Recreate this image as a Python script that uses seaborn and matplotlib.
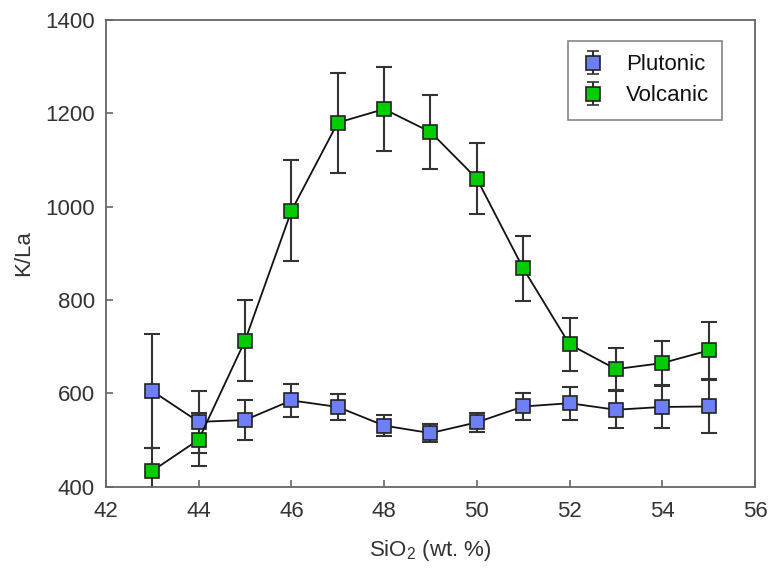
import numpy as np
import pandas as pd
import matplotlib
matplotlib.use('Agg')
import matplotlib.pyplot as plt
import seaborn as sns

# values
sio2 = [43, 44, 45, 46, 47, 48, 49, 50, 51, 52, 53, 54, 55]
plutonic = [605, 539, 543, 585, 571, 531, 515, 538, 572, 579, 565, 571, 572]
plutonic_err = [123, 67, 43, 35, 28, 22, 19, 21, 29, 35, 40, 45, 56]
volcanic = [434, 501, 713, 991, 1180, 1209, 1160, 1060, 868, 705, 652, 665, 692]
volcanic_err = [50, 57, 87, 108, 107, 90, 80, 76, 70, 56, 45, 47, 62]

colors = {'Plutonic': '#6e7ff5', 'Volcanic': '#00cc00'}

df = pd.DataFrame({
    'SiO2': sio2 * 2,
    'K/La': plutonic + volcanic,
    'err': plutonic_err + volcanic_err,
    'type': ['Plutonic'] * len(sio2) + ['Volcanic'] * len(sio2),
})

sns.set_style('white')
plt.rcParams['font.family'] = ['Liberation Sans', 'DejaVu Sans']
plt.rcParams['mathtext.default'] = 'regular'

fig = plt.figure(figsize=(7.68, 5.70), dpi=100)
ax = fig.add_axes([0.138, 0.146, 0.845, 0.819])

ebar_color = '#333333'
handles = []
for name, grp in df.groupby('type'):
    ax.errorbar(grp['SiO2'], grp['K/La'], yerr=grp['err'], fmt='none',
                ecolor=ebar_color, elinewidth=1.5, capsize=5.5, capthick=1.5, zorder=2)
    sns.lineplot(x=grp['SiO2'], y=grp['K/La'], ax=ax, color='#111111', linewidth=1.3,
                 marker='s', markersize=10, markerfacecolor=colors[name],
                 markeredgecolor='#222222', markeredgewidth=1.2, zorder=3, legend=False)
    # proxy artist for legend: marker with vertical error bar
    h = ax.errorbar([np.nan], [np.nan], yerr=[1], fmt='s', markersize=10,
                    markerfacecolor=colors[name], markeredgecolor='#222222',
                    markeredgewidth=1.2, ecolor=ebar_color, elinewidth=1.5,
                    capsize=4, capthick=1.5, label=name)
    handles.append(h)

ax.set_xlim(42, 56)
ax.set_ylim(400, 1400)
ax.set_xticks(range(42, 57, 2))
ax.set_yticks(range(400, 1401, 200))

for s in ax.spines.values():
    s.set_color('#666666')
    s.set_linewidth(1.3)

ax.tick_params(axis='both', direction='in', length=5, width=1.2, color='#666666',
               labelsize=16, labelcolor='#333333', bottom=True, left=True,
               top=False, right=False, pad=8)
ax.tick_params(axis='x', pad=10)

ax.set_xlabel('SiO$_2$ (wt. %)', fontsize=16, color='#333333', labelpad=12)
ax.set_ylabel('K/La', fontsize=16, color='#333333', labelpad=8)

leg = ax.legend(handles=handles, labels=['Plutonic', 'Volcanic'], loc='upper right',
                bbox_to_anchor=(0.95, 0.955), fontsize=16, frameon=True,
                fancybox=False, edgecolor='#666666', handlelength=1.0,
                handletextpad=1.0, borderpad=0.6, labelspacing=0.45,
                borderaxespad=0.0)
leg.get_frame().set_linewidth(1.2)
for t in leg.get_texts():
    t.set_color('#111111')

plt.savefig('out.png', dpi=100)
